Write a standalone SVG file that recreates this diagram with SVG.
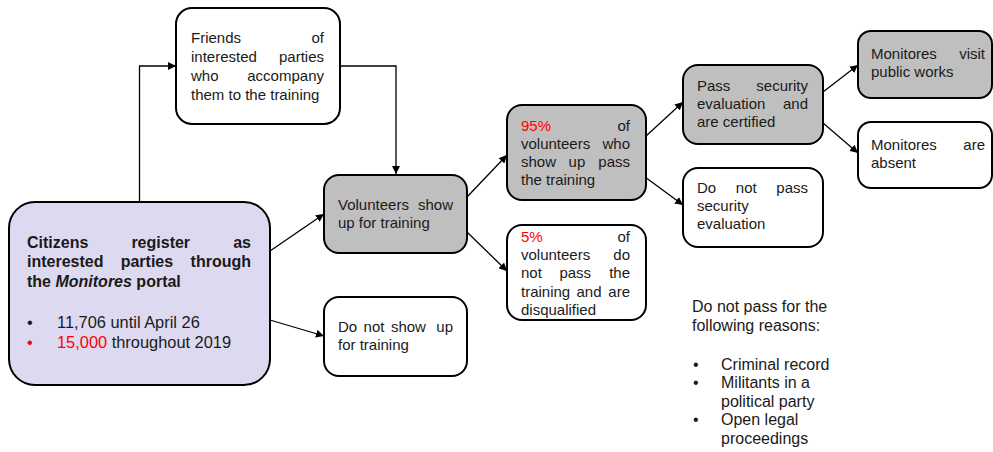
<svg xmlns="http://www.w3.org/2000/svg" width="993" height="452" viewBox="0 0 993 452">
<defs>
<marker id="arr" viewBox="0 0 10 10" refX="10" refY="5" markerWidth="8" markerHeight="8" markerUnits="userSpaceOnUse" orient="auto">
<path d="M0,0 L10,5 L0,10 z" fill="#000"/>
</marker>
<style>
.box{stroke:#000;stroke-width:2;}
.w{fill:#fff;}
.g{fill:#bfbfbf;}
.p{fill:#ddd9f1;}
.t{font-family:"Liberation Sans",Arial,sans-serif;font-size:15px;fill:#1a1a1a;}
.m{font-family:"Liberation Sans",Arial,sans-serif;font-size:16px;fill:#1a1a1a;}
.l{font-family:"Liberation Sans",Arial,sans-serif;font-size:16.4px;fill:#1a1a1a;}
.b{font-weight:bold;}
.r{fill:#ff0000;}
.c{fill:none;stroke:#000;stroke-width:1.3;marker-end:url(#arr);}
</style>
</defs>
<rect width="993" height="452" fill="#fff"/>

<g id="connectors">
<path class="c" d="M139.5,202 V66 H176"/>
<path class="c" d="M340,66 H396 V174"/>
<path class="c" d="M270,251 L324,214"/>
<path class="c" d="M270,320 L324,336"/>
<path class="c" d="M467,197 L507,155"/>
<path class="c" d="M467,232 L507,271"/>
<path class="c" d="M645,137 L683,102"/>
<path class="c" d="M645,177 L683,205"/>
<path class="c" d="M823,92 L858,65"/>
<path class="c" d="M823,123 L858,153"/>
</g>

<g id="citizens">
<rect class="box p" x="9" y="202" width="261" height="183" rx="26"/>
<text class="m b"><tspan x="27" y="248">Citizens</tspan><tspan x="131.4" y="248">register</tspan><tspan x="251" y="248" text-anchor="end">as</tspan></text>
<text class="m b"><tspan x="27" y="267">interested</tspan><tspan x="120.7" y="267">parties</tspan><tspan x="251" y="267" text-anchor="end">through</tspan></text>
<text class="m b" x="27" y="287">the <tspan font-style="italic">Monitores</tspan> portal</text>
<text class="l" x="27" y="328">•</text>
<text class="l" x="57" y="328">11,706 until April 26</text>
<text class="l r" x="27" y="348">•</text>
<text class="l" x="57" y="348"><tspan class="r">15,000</tspan> throughout 2019</text>
</g>

<g id="friends">
<rect class="box w" x="176" y="8" width="164" height="116" rx="16"/>
<text class="t"><tspan x="191" y="43">Friends</tspan><tspan x="324" y="43" text-anchor="end">of</tspan></text>
<text class="t"><tspan x="191" y="62">interested</tspan><tspan x="324" y="62" text-anchor="end">parties</tspan></text>
<text class="t"><tspan x="191" y="81">who</tspan><tspan x="324" y="81" text-anchor="end">accompany</tspan></text>
<text class="t" x="191" y="100">them to the training</text>
</g>

<g id="volunteers">
<rect class="box g" x="324" y="175" width="143" height="78" rx="15"/>
<text class="t"><tspan x="338" y="210">Volunteers</tspan><tspan x="453" y="210" text-anchor="end">show</tspan></text>
<text class="t" x="338" y="228">up for training</text>
</g>

<g id="noshow">
<rect class="box w" x="324" y="297" width="143" height="79" rx="15"/>
<text class="t"><tspan x="338" y="332">Do</tspan><tspan x="363.6" y="332">not</tspan><tspan x="390.9" y="332">show</tspan><tspan x="453" y="332" text-anchor="end">up</tspan></text>
<text class="t" x="338" y="350">for training</text>
</g>

<g id="pass95">
<rect class="box g" x="507" y="105" width="139" height="95" rx="15"/>
<text class="t"><tspan class="r" x="521" y="131">95%</tspan><tspan x="630" y="131" text-anchor="end">of</tspan></text>
<text class="t"><tspan x="521" y="149">volunteers</tspan><tspan x="630" y="149" text-anchor="end">who</tspan></text>
<text class="t"><tspan x="521" y="167">show</tspan><tspan x="568.6" y="167">up</tspan><tspan x="630" y="167" text-anchor="end">pass</tspan></text>
<text class="t" x="521" y="185">the training</text>
</g>

<g id="fail5">
<rect class="box w" x="507" y="225" width="139" height="95" rx="15"/>
<text class="t"><tspan class="r" x="521" y="242">5%</tspan><tspan x="630" y="242" text-anchor="end">of</tspan></text>
<text class="t"><tspan x="521" y="260">volunteers</tspan><tspan x="630" y="260" text-anchor="end">do</tspan></text>
<text class="t"><tspan x="521" y="278">not</tspan><tspan x="559.4" y="278">pass</tspan><tspan x="630" y="278" text-anchor="end">the</tspan></text>
<text class="t"><tspan x="521" y="297">training</tspan><tspan x="576.5" y="297">and</tspan><tspan x="630" y="297" text-anchor="end">are</tspan></text>
<text class="t" x="521" y="315">disqualified</text>
</g>

<g id="passsec">
<rect class="box g" x="683" y="65" width="140" height="79" rx="15"/>
<text class="t"><tspan x="697" y="91">Pass</tspan><tspan x="808" y="91" text-anchor="end">security</tspan></text>
<text class="t"><tspan x="697" y="109">evaluation</tspan><tspan x="808" y="109" text-anchor="end">and</tspan></text>
<text class="t" x="697" y="127">are certified</text>
</g>

<g id="failsec">
<rect class="box w" x="683" y="168" width="140" height="79" rx="15"/>
<text class="t"><tspan x="697" y="193">Do</tspan><tspan x="735.8" y="193">not</tspan><tspan x="808" y="193" text-anchor="end">pass</tspan></text>
<text class="t" x="697" y="211">security</text>
<text class="t" x="697" y="229">evaluation</text>
</g>

<g id="visit">
<rect class="box g" x="858" y="31" width="134" height="67" rx="13"/>
<text class="t"><tspan x="871" y="59">Monitores</tspan><tspan x="985" y="59" text-anchor="end">visit</tspan></text>
<text class="t" x="871" y="77">public works</text>
</g>

<g id="absent">
<rect class="box w" x="858" y="122" width="134" height="66" rx="13"/>
<text class="t"><tspan x="871" y="150">Monitores</tspan><tspan x="985" y="150" text-anchor="end">are</tspan></text>
<text class="t" x="871" y="168">absent</text>
</g>

<g id="reasons">
<text class="m" x="692" y="312">Do not pass for the</text>
<text class="m" x="692" y="331">following reasons:</text>
<text class="m" x="693" y="370">•</text>
<text class="m" x="721" y="370">Criminal record</text>
<text class="m" x="693" y="388">•</text>
<text class="m" x="721" y="388">Militants in a</text>
<text class="m" x="721" y="407">political party</text>
<text class="m" x="693" y="425">•</text>
<text class="m" x="721" y="425">Open legal</text>
<text class="m" x="721" y="444">proceedings</text>
</g>
</svg>
